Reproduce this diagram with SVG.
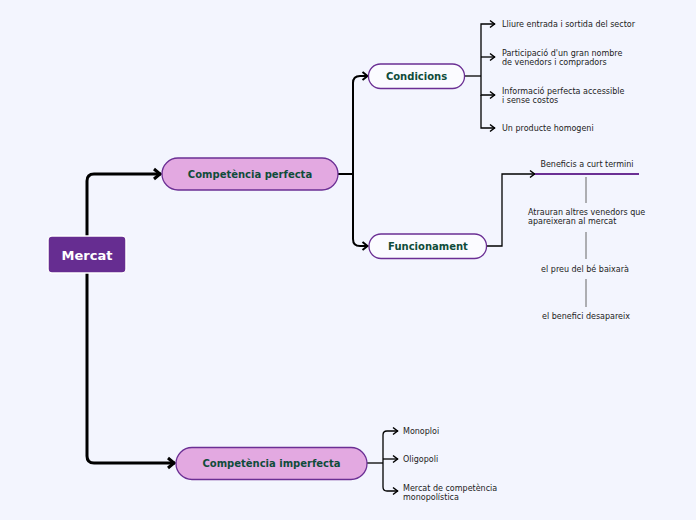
<svg xmlns="http://www.w3.org/2000/svg" width="696" height="520" viewBox="0 0 696 520">
  <style>
    .bg { fill: #f3f5fe; }
    .root rect { fill: #662d91; stroke: #ffffff; stroke-width: 1.5; }
    .root text { font-family: "DejaVu Sans", sans-serif; font-weight: bold; font-size: 13px; fill: #ffffff; text-anchor: middle; }
    .l1 rect { fill: #e3a9e1; stroke: #6b2f94; stroke-width: 1.3; }
    .l2 rect { fill: #fbfbff; stroke: #6b2f94; stroke-width: 1.3; }
    .l1 text, .l2 text { font-family: "DejaVu Sans", sans-serif; font-weight: bold; font-size: 10px; fill: #0f4c3a; text-anchor: middle; }
    .leaf { font-family: "DejaVu Sans", sans-serif; font-size: 8px; fill: #222222; }
    .mid { text-anchor: middle; }
    .c0 { fill: none; stroke: #000; stroke-width: 3; }
    .c1 { fill: none; stroke: #000; stroke-width: 2; }
    .c2 { fill: none; stroke: #000; stroke-width: 1.3; }
    .under { stroke: #6b2f94; stroke-width: 2; }
    .gray { stroke: #666666; stroke-width: 1; }
  </style>
  <defs>
    <marker id="a0" markerUnits="userSpaceOnUse" markerWidth="12" markerHeight="14" refX="9" refY="7" orient="auto">
      <path d="M2,2 L8,7 L2,12" fill="none" stroke="#000" stroke-width="3"/>
    </marker>
    <marker id="a1" markerUnits="userSpaceOnUse" markerWidth="10" markerHeight="12" refX="7.5" refY="6" orient="auto">
      <path d="M2,2 L7,6 L2,10" fill="none" stroke="#000" stroke-width="2"/>
    </marker>
    <marker id="a2" markerUnits="userSpaceOnUse" markerWidth="10" markerHeight="10" refX="7" refY="5" orient="auto">
      <path d="M2,1.5 L6.5,5 L2,8.5" fill="none" stroke="#000" stroke-width="1.5"/>
    </marker>
  </defs>
  <rect class="bg" x="0" y="0" width="696" height="520"/>

  <g id="connectors">
    <path class="c0" d="M87,236 V181 Q87,174 94,174 H161" marker-end="url(#a0)"/>
    <path class="c0" d="M87,273 V456 Q87,463 94,463 H175" marker-end="url(#a0)"/>

    <path class="c1" d="M338,174 H353"/>
    <path class="c1" d="M353,174 V83 Q353,76 360,76 H368" marker-end="url(#a1)"/>
    <path class="c1" d="M353,174 V239 Q353,246 360,246 H368" marker-end="url(#a1)"/>

    <path class="c2" d="M465,76 H481"/>
    <path class="c2" d="M481,76 V24 H495" marker-end="url(#a2)"/>
    <path class="c2" d="M481,57 H495" marker-end="url(#a2)"/>
    <path class="c2" d="M481,76 V95 H495" marker-end="url(#a2)"/>
    <path class="c2" d="M481,95 V128 H495" marker-end="url(#a2)"/>

    <path class="c2" d="M487,246 H502 V174 H535" marker-end="url(#a2)"/>
    <line class="under" x1="535" y1="174" x2="639" y2="174"/>
    <line class="gray" x1="586" y1="177" x2="586" y2="203"/>
    <line class="gray" x1="586" y1="232" x2="586" y2="259"/>
    <line class="gray" x1="586" y1="279" x2="586" y2="307"/>

    <path class="c2" d="M367,463 H383"/>
    <path class="c2" d="M383,463 V435 Q383,431 387,431 H398" marker-end="url(#a2)"/>
    <path class="c2" d="M383,459 H398" marker-end="url(#a2)"/>
    <path class="c2" d="M383,463 V487 Q383,491 387,491 H398" marker-end="url(#a2)"/>
  </g>

  <g id="mercat" class="root">
    <rect x="48" y="236" width="78" height="37" rx="4"/>
    <text x="87" y="260">Mercat</text>
  </g>

  <g id="competencia-perfecta" class="l1">
    <rect x="162" y="158" width="176" height="32" rx="16"/>
    <text x="250" y="177.5">Competència perfecta</text>
  </g>

  <g id="competencia-imperfecta" class="l1">
    <rect x="176" y="447.5" width="191" height="32" rx="16"/>
    <text x="271.5" y="467">Competència imperfecta</text>
  </g>

  <g id="condicions" class="l2">
    <rect x="368.5" y="64" width="96" height="24.5" rx="12"/>
    <text x="416.5" y="80">Condicions</text>
  </g>

  <g id="funcionament" class="l2">
    <rect x="369" y="234" width="117.5" height="24.5" rx="12"/>
    <text x="428" y="250">Funcionament</text>
  </g>

  <g id="condicions-items">
    <text class="leaf" x="502" y="27">Lliure entrada i sortida del sector</text>
    <text class="leaf" x="502" y="56">Participació d'un gran nombre</text>
    <text class="leaf" x="502" y="65">de venedors i compradors</text>
    <text class="leaf" x="502" y="94">Informació perfecta accessible</text>
    <text class="leaf" x="502" y="103">i sense costos</text>
    <text class="leaf" x="502" y="131">Un producte homogeni</text>
  </g>

  <g id="funcionament-items">
    <text class="leaf mid" x="587" y="167">Beneficis a curt termini</text>
    <text class="leaf" x="528" y="215">Atrauran altres venedors que</text>
    <text class="leaf" x="528" y="224">apareixeran al mercat</text>
    <text class="leaf mid" x="585" y="272">el preu del bé baixarà</text>
    <text class="leaf mid" x="586" y="319">el benefici desapareix</text>
  </g>

  <g id="imperfecta-items">
    <text class="leaf" x="403" y="434">Monoploi</text>
    <text class="leaf" x="403" y="462">Oligopoli</text>
    <text class="leaf" x="403" y="491">Mercat de competència</text>
    <text class="leaf" x="403" y="500">monopolística</text>
  </g>
</svg>
